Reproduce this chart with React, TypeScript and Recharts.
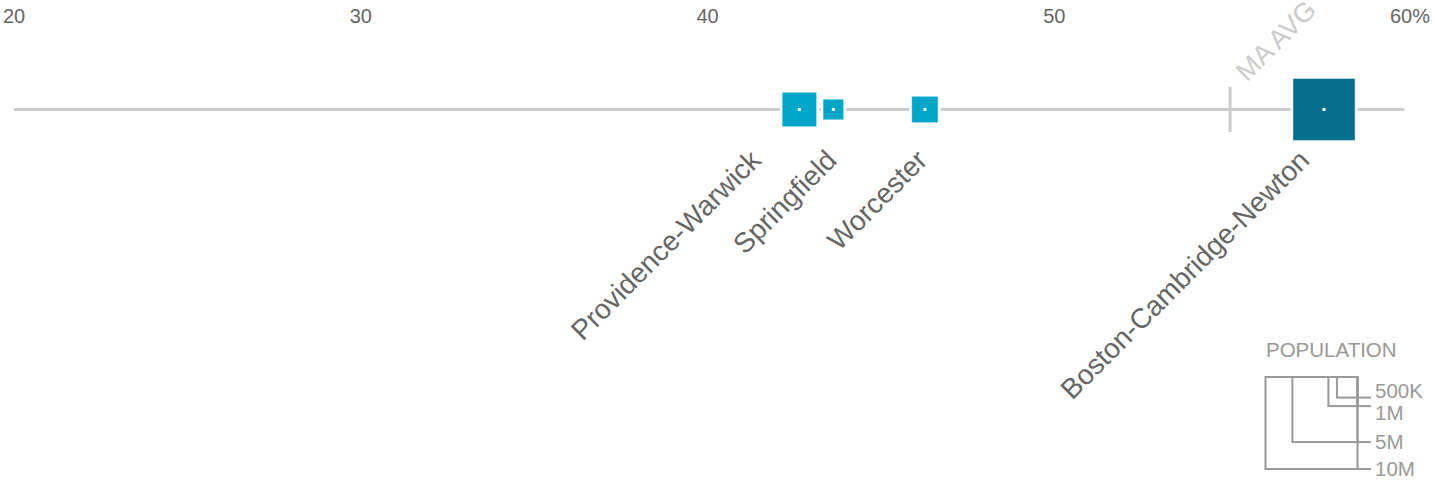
import React from "react";
import {
    ScatterChart,
    Scatter,
    XAxis,
    YAxis,
    ZAxis,
    ReferenceLine,
} from "recharts";

// metro areas, share (%) and population (millions)
const cities = [
    "Providence-Warwick",
    "Springfield",
    "Worcester",
    "Boston-Cambridge-Newton",
];
const shares = [42.65, 43.63, 46.27, 57.78];
const populations = [1.4, 0.5, 0.82, 4.55];

const maAverage = 55.07;
const xTicks = [20, 30, 40, 50, 60];

const legendPops = [0.5, 1, 5, 10];
const legendLabels = ["500K", "1M", "5M", "10M"];

const W = 1433;
const H = 481;
const FONT = '"Liberation Sans", Arial, Helvetica, sans-serif';
const LIGHT = "#00a5c7";
const DARK = "#076d8c";

// square area is linear in population -> side ~ sqrt(pop)
const Z_MAX = 10;
const Z_AREA = 8468;
const sideFor = (pop: number) => Math.sqrt((pop / Z_MAX) * Z_AREA);

const cityData = cities.map((name, i) => ({
    name,
    share: shares[i],
    pop: populations[i],
    y: 0,
}));
const avgData = [{ name: "MA AVG", share: maAverage, y: 0 }];

// labels are pushed sideways a bit so they don't collide
const LABEL_NUDGE: Record<string, number> = {
    "Providence-Warwick": -37,
    Springfield: 5,
    Worcester: 4,
    "Boston-Cambridge-Newton": -13,
};

const CityMark = (props: any) => {
    const { cx, cy, size, width, payload } = props;
    const side =
        size != null ? Math.sqrt(size) : (Math.sqrt(Math.PI) * width) / 2;
    const fill = payload.share > maAverage ? DARK : LIGHT;
    const lx = cx + (LABEL_NUDGE[payload.name] ?? 0);
    const ly = cy + 52.5;
    return (
        <g>
            <rect
                x={cx - side / 2 - 2.5}
                y={cy - side / 2 - 2.5}
                width={side + 5}
                height={side + 5}
                fill="#fff"
            />
            <rect
                x={cx - side / 2}
                y={cy - side / 2}
                width={side}
                height={side}
                fill={fill}
                stroke="rgba(255,255,255,0.45)"
                strokeWidth={1}
            />
            <rect x={cx - 1.5} y={cy - 1.5} width={3} height={3} fill="#fff" />
            <text
                x={lx}
                y={ly}
                transform={`rotate(-45 ${lx} ${ly})`}
                textAnchor="end"
                fontFamily={FONT}
                fontSize={28}
                fill="#666"
            >
                {payload.name}
            </text>
        </g>
    );
};

const AvgMark = (props: any) => {
    const { cx, cy, payload } = props;
    const tx = cx + 17;
    const ty = cy - 27;
    return (
        <g>
            <line
                x1={cx}
                x2={cx}
                y1={cy - 22.5}
                y2={cy + 22.5}
                stroke="#ccc"
                strokeWidth={3}
            />
            <text
                x={tx}
                y={ty}
                transform={`rotate(-45 ${tx} ${ty})`}
                fontFamily={FONT}
                fontSize={27}
                fill="#ccc"
            >
                {payload.name}
            </text>
        </g>
    );
};

const TopTick = (props: any) => {
    const { x, payload } = props;
    const last = payload.value === xTicks[xTicks.length - 1];
    return (
        <text
            x={last ? x - 11 : x}
            y={23.3}
            textAnchor={last ? "start" : "middle"}
            fontFamily={FONT}
            fontSize={20}
            fill="#666"
        >
            {last ? `${payload.value}%` : payload.value}
        </text>
    );
};

const PopulationLegend = () => {
    const right = 1357.5;
    const top = 377;
    const nudges = [-7, 7, 0, 0];
    return (
        <svg
            width={W}
            height={H}
            style={{ position: "absolute", left: 0, top: 0, pointerEvents: "none" }}
        >
            <text
                x={1266}
                y={356.7}
                fontFamily={FONT}
                fontSize={20.5}
                fill="#999"
            >
                POPULATION
            </text>
            {legendPops.map((p, i) => {
                const s = sideFor(p);
                return (
                    <g key={legendLabels[i]}>
                        <rect
                            x={right - s}
                            y={top}
                            width={s}
                            height={s}
                            fill="none"
                            stroke="#999"
                            strokeWidth={2}
                        />
                        <line
                            x1={right}
                            x2={1371}
                            y1={top + s}
                            y2={top + s}
                            stroke="#999"
                            strokeWidth={2}
                        />
                        <text
                            x={1375}
                            y={top + s + nudges[i]}
                            dy="0.36em"
                            fontFamily={FONT}
                            fontSize={20.5}
                            fill="#999"
                        >
                            {legendLabels[i]}
                        </text>
                    </g>
                );
            })}
        </svg>
    );
};

export default function App() {
    return (
        <div
            style={{
                position: "absolute",
                left: 0,
                top: 0,
                width: W,
                height: H,
                background: "#fff",
            }}
        >
            <ScatterChart
                width={W}
                height={H}
                margin={{ top: 0, right: 32, left: 14, bottom: 292 }}
            >
                <XAxis
                    type="number"
                    dataKey="share"
                    orientation="top"
                    domain={[20, 60]}
                    ticks={xTicks}
                    height={30}
                    axisLine={false}
                    tickLine={false}
                    tick={<TopTick />}
                    interval={0}
                />
                <YAxis type="number" dataKey="y" domain={[-1, 1]} hide />
                <ZAxis
                    type="number"
                    dataKey="pop"
                    domain={[0, Z_MAX]}
                    range={[0, Z_AREA]}
                />
                <ReferenceLine
                    segment={[
                        { x: 20, y: 0 },
                        { x: 60.1, y: 0 },
                    ]}
                    stroke="#ccc"
                    strokeWidth={3}
                    ifOverflow="visible"
                />
                <Scatter
                    data={avgData}
                    shape={<AvgMark />}
                    isAnimationActive={false}
                />
                <Scatter
                    data={cityData}
                    shape={<CityMark />}
                    isAnimationActive={false}
                />
            </ScatterChart>
            <PopulationLegend />
        </div>
    );
}
